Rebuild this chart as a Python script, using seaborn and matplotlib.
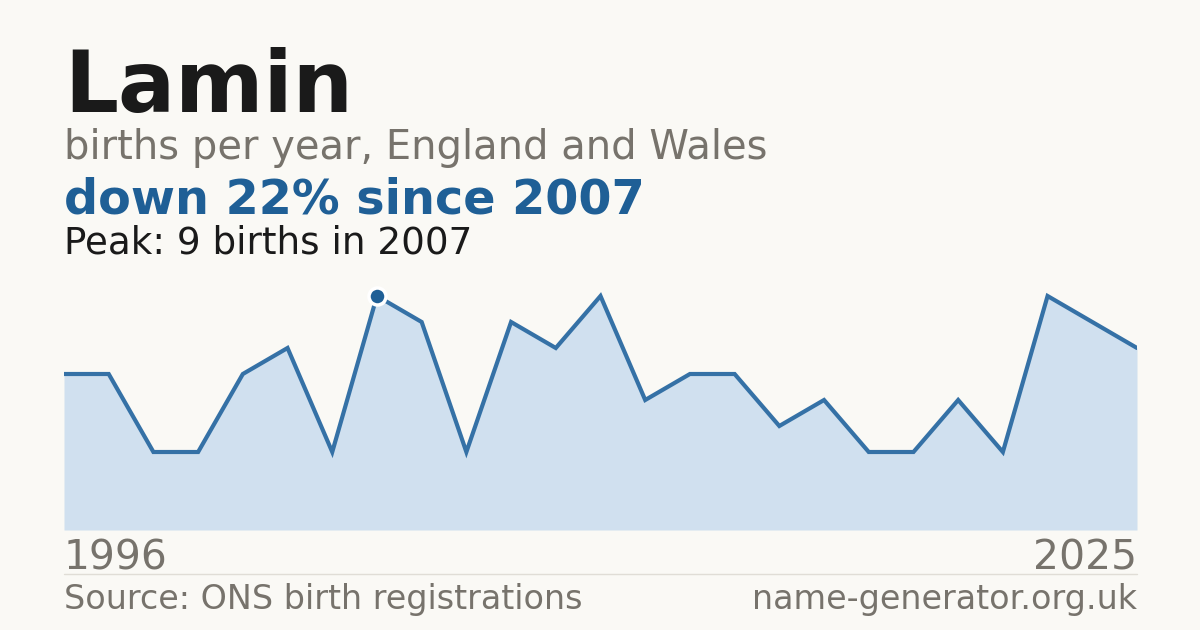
import matplotlib
matplotlib.use("Agg")
import matplotlib.pyplot as plt
import seaborn as sns
import pandas as pd

# data (years with no published count are absent)
years = [1996, 1997, 1999, 2000, 2002, 2004, 2005, 2007, 2008, 2009,
         2010, 2011, 2012, 2013, 2014, 2015, 2017, 2018, 2019, 2020,
         2021, 2022, 2023, 2024, 2025]
births = [6, 6, 3, 3, 6, 7, 3, 9, 8, 3,
          8, 7, 9, 5, 6, 6, 4, 5, 3, 3,
          5, 3, 9, 8, 7]

name = "Lamin"
subtitle = "births per year, England and Wales"
source = "Source: ONS birth registrations"
site = "name-generator.org.uk"

bg = "#FAF9F5"
blue = "#1F5F96"
grey = "#77736C"
dark = "#1A1A1A"

df = pd.DataFrame({"year": years, "births": births})
df["pos"] = range(len(df))

peak_i = df["births"].idxmax()
peak_year = df.loc[peak_i, "year"]
peak_val = df.loc[peak_i, "births"]
change = round((births[-1] - peak_val) / peak_val * 100)

sns.set_theme(style="white")
plt.rcParams["font.family"] = ["DejaVu Sans"]

fig = plt.figure(figsize=(12, 6.3), dpi=100, facecolor=bg)
ax = fig.add_axes([64 / 1200, 1 - 530 / 630, (1137 - 64) / 1200, 260 / 630])
ax.set_facecolor(bg)

ax.fill_between(df["pos"], df["births"], 0, color="#D0E0EF", lw=0)
sns.lineplot(data=df, x="pos", y="births", ax=ax, color="#3571A6", lw=3,
             solid_joinstyle="miter")
ax.scatter([peak_i], [peak_val], s=150, color=blue, edgecolor="white",
           linewidth=2.5, zorder=5)

ax.set_xlim(0, len(df) - 1)
ax.set_ylim(0, 10)
ax.set_axis_off()

fig.text(64 / 1200, 1 - 112 / 630, name, fontsize=61, fontweight="bold",
         color=dark, va="baseline")
fig.text(64 / 1200, 1 - 159 / 630, subtitle, fontsize=28.8, color=grey,
         va="baseline")
fig.text(64 / 1200, 1 - 214 / 630, f"down {abs(change)}% since {peak_year}",
         fontsize=34.4, fontweight="bold", color=blue, va="baseline")
fig.text(64 / 1200, 1 - 254 / 630,
         f"Peak: {peak_val} births in {peak_year}", fontsize=26.8,
         color=dark, va="baseline")

fig.text(64 / 1200, 1 - 570 / 630, str(years[0]), fontsize=29.4, color=grey,
         va="baseline")
fig.text(1137 / 1200, 1 - 570 / 630, str(years[-1]), fontsize=29.4,
         color=grey, va="baseline", ha="right")
fig.add_artist(plt.Line2D([64 / 1200, 1137 / 1200], [1 - 574 / 630] * 2,
                          color="#E0DDD6", lw=1))
fig.text(64 / 1200, 1 - 609 / 630, source, fontsize=24, color=grey,
         va="baseline")
fig.text(1137 / 1200, 1 - 609 / 630, site, fontsize=24, color=grey,
         va="baseline", ha="right")

fig.savefig("out.png", dpi=100, facecolor=bg)
